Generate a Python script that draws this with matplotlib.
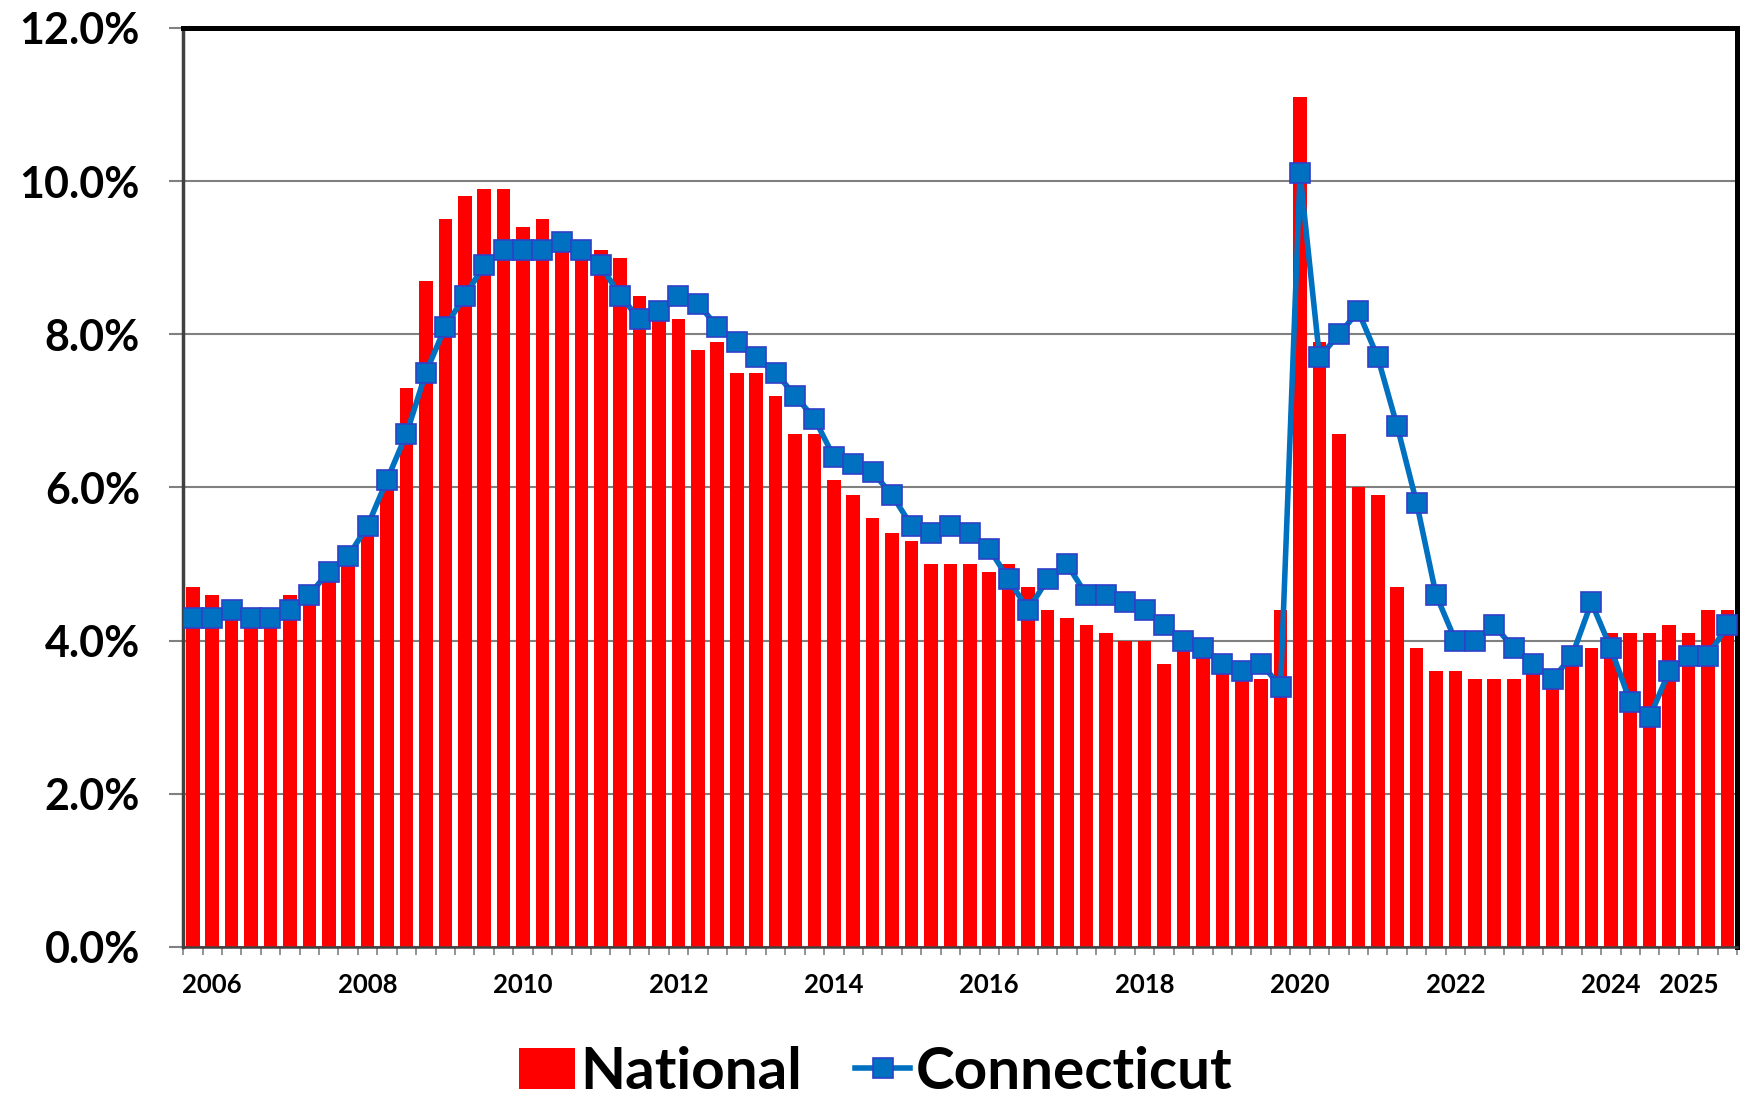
import numpy as np
import matplotlib
matplotlib.use("Agg")
import matplotlib.pyplot as plt
from matplotlib.lines import Line2D
from matplotlib.patches import Patch

# quarterly unemployment rate, %
national = [4.7, 4.6, 4.4, 4.3, 4.3, 4.6, 4.6, 4.8, 5.0, 5.4,
            6.0, 7.3, 8.7, 9.5, 9.8, 9.9, 9.9, 9.4, 9.5, 9.2,
            9.0, 9.1, 9.0, 8.5, 8.3, 8.2, 7.8, 7.9, 7.5, 7.5,
            7.2, 6.7, 6.7, 6.1, 5.9, 5.6, 5.4, 5.3, 5.0, 5.0,
            5.0, 4.9, 5.0, 4.7, 4.4, 4.3, 4.2, 4.1, 4.0, 4.0,
            3.7, 3.9, 3.8, 3.6, 3.5, 3.5, 4.4, 11.1, 7.9, 6.7,
            6.0, 5.9, 4.7, 3.9, 3.6, 3.6, 3.5, 3.5, 3.5, 3.6,
            3.4, 3.7, 3.9, 4.1, 4.1, 4.1, 4.2, 4.1, 4.4, 4.4]

connecticut = [4.3, 4.3, 4.4, 4.3, 4.3, 4.4, 4.6, 4.9, 5.1, 5.5,
               6.1, 6.7, 7.5, 8.1, 8.5, 8.9, 9.1, 9.1, 9.1, 9.2,
               9.1, 8.9, 8.5, 8.2, 8.3, 8.5, 8.4, 8.1, 7.9, 7.7,
               7.5, 7.2, 6.9, 6.4, 6.3, 6.2, 5.9, 5.5, 5.4, 5.5,
               5.4, 5.2, 4.8, 4.4, 4.8, 5.0, 4.6, 4.6, 4.5, 4.4,
               4.2, 4.0, 3.9, 3.7, 3.6, 3.7, 3.4, 10.1, 7.7, 8.0,
               8.3, 7.7, 6.8, 5.8, 4.6, 4.0, 4.0, 4.2, 3.9, 3.7,
               3.5, 3.8, 4.5, 3.9, 3.2, 3.0, 3.6, 3.8, 3.8, 4.2]

# which quarter carries a year label
tick_quarter = [1, 9, 17, 25, 33, 41, 49, 57, 65, 73, 77]
tick_year = ['2006', '2008', '2010', '2012', '2014', '2016', '2018',
             '2020', '2022', '2024', '2025']

plt.rcParams['font.family'] = ['Lato', 'DejaVu Sans']

RED = '#FF0000'
BLUE = '#0070C0'
EDGE = '#3040C8'

fig = plt.figure(figsize=(17.52, 11.01), dpi=100)
ax = fig.add_axes([0.1045, 0.1399, 0.887, 0.8347])

x = np.arange(len(national))
ax.bar(x, national, width=0.7, color=RED, zorder=2)
ax.plot(x, connecticut, color=BLUE, lw=4, marker='s', ms=15,
        mfc=BLUE, mec=EDGE, mew=1.2, zorder=3)

ax.set_xlim(-0.5, len(national) - 0.5)
ax.set_ylim(0, 12)
ax.set_yticks(np.arange(0, 12.1, 2))
ax.set_yticklabels([f'{v:.1f}%' for v in np.arange(0, 12.1, 2)],
                   fontsize=31, fontweight='bold')
ax.yaxis.grid(True, color='#808080', lw=1.5)
ax.set_axisbelow(True)

# ticks between quarters, labels on the chosen quarters
ax.set_xticks(np.arange(-0.5, len(national), 1))
ax.set_xticklabels([])
ax.set_xticks(tick_quarter, minor=True)
ax.set_xticklabels(tick_year, minor=True, fontsize=18.5, fontweight='bold')
ax.tick_params(axis='x', which='major', length=6, width=1.2, color='#808080')
ax.tick_params(axis='x', which='minor', length=0, pad=19)
ax.tick_params(axis='y', length=10, width=1.5, color='#808080', pad=21)

for side in ['top', 'right']:
    ax.spines[side].set_color('black')
    ax.spines[side].set_linewidth(3.6)
ax.spines['left'].set_color('#404040')
ax.spines['left'].set_linewidth(2.5)
ax.spines['bottom'].set_color('#404040')
ax.spines['bottom'].set_linewidth(1.8)

handles = [Patch(facecolor=RED, edgecolor='none', label='National'),
           Line2D([], [], color=BLUE, lw=4, marker='s', ms=15,
                  mfc=BLUE, mec=EDGE, mew=1.2, label='Connecticut')]
fig.legend(handles=handles, loc='center', bbox_to_anchor=(0.5, 0.026),
           ncol=2, frameon=False, prop={'size': 42, 'weight': 'bold'},
           handlelength=0.95, handletextpad=0.1, columnspacing=0.9,
           borderaxespad=0)

fig.savefig('out.png', dpi=100)
